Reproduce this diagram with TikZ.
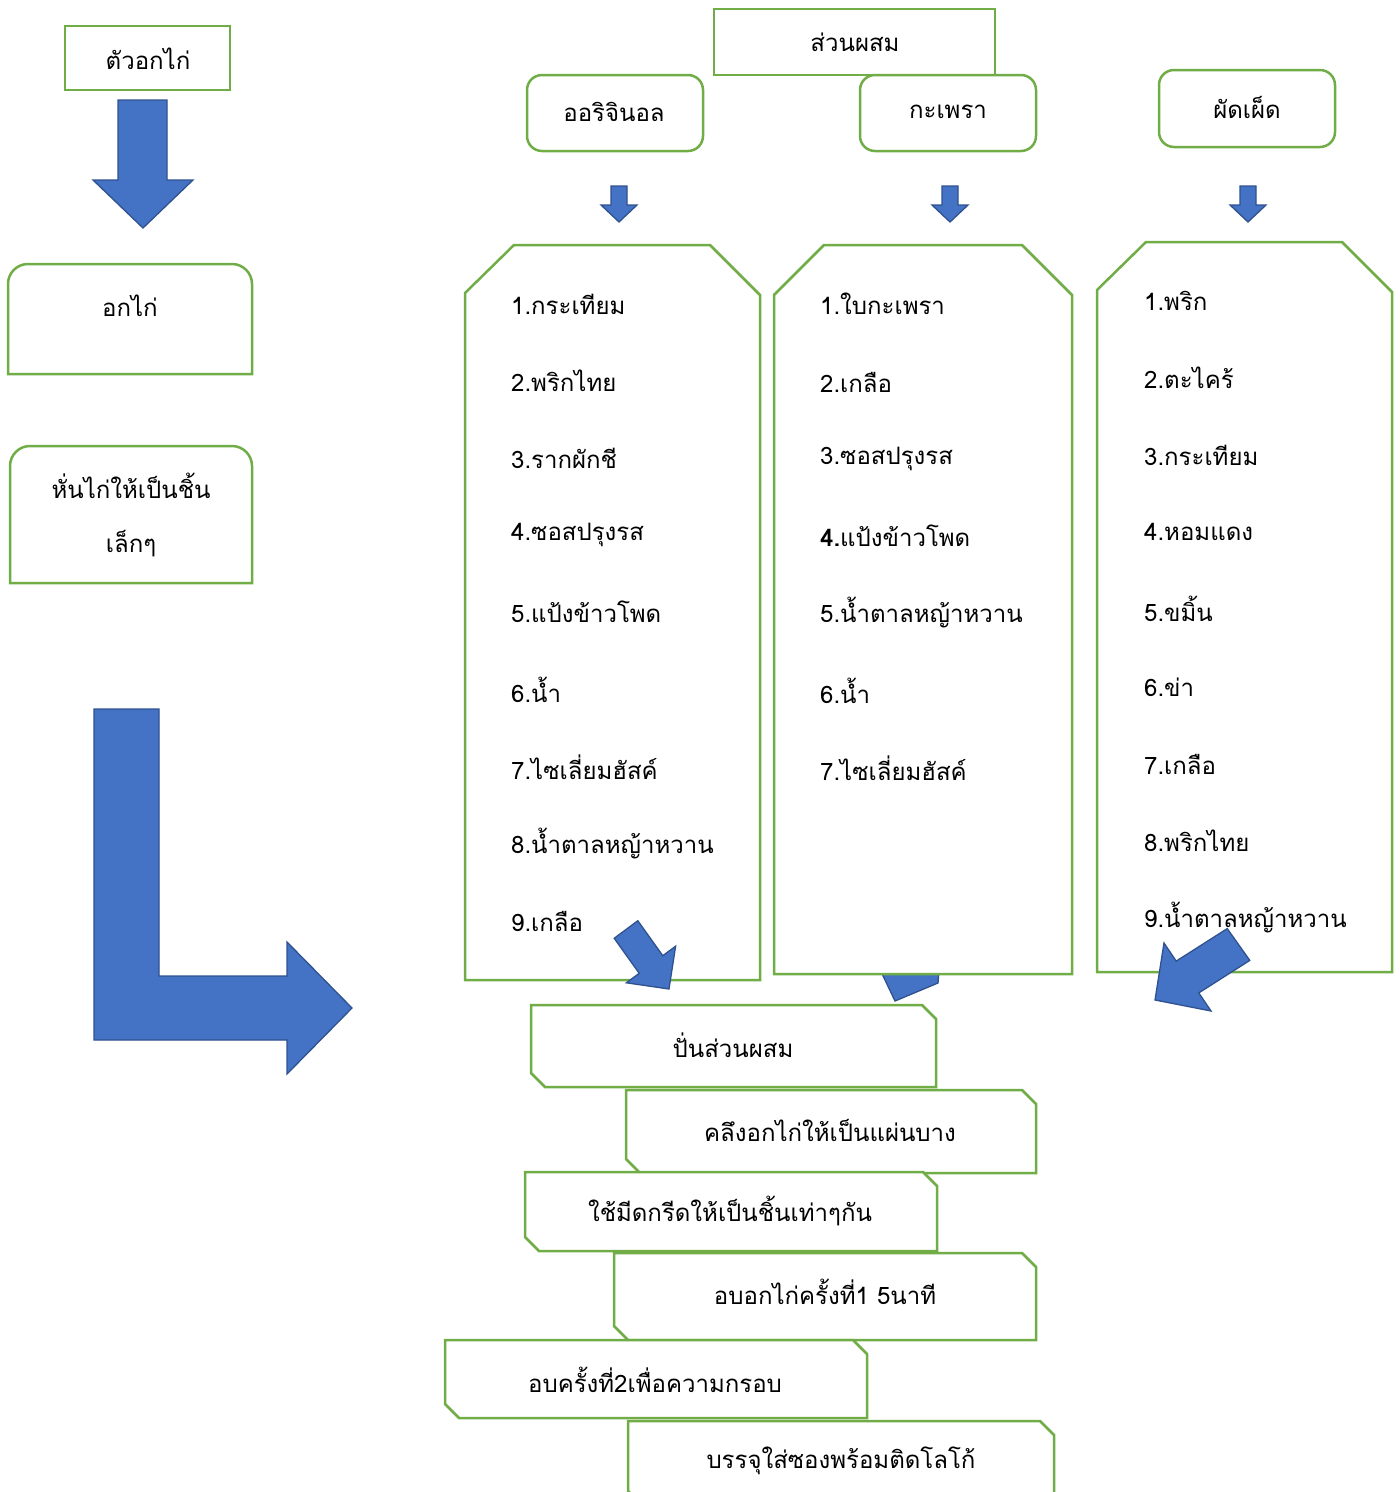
\documentclass[tikz,border=0pt]{standalone}
\usepackage{fontspec}
\setmainfont[Script=Thai]{Loma}
\definecolor{grn}{HTML}{70AD47}
\definecolor{blu}{HTML}{4472C4}
\definecolor{bluedk}{HTML}{2F528F}
\newcommand\snipbox[4]{\draw[gbox] (#1,#2) -- ({#3-14},#2) -- (#3,{#2+14}) -- (#3,#4) -- ({#1+14},#4) -- (#1,{#4-14}) -- cycle;}
\newcommand\smdown[1]{\begin{scope}[shift={(#1,0)}]\draw[barrow] (-8,186) -- (8,186) -- (8,205) -- (18,205) -- (0,222) -- (-18,205) -- (-8,205) -- cycle;\end{scope}}
\tikzset{
 gbox/.style={draw=grn, line width=2.5pt, fill=white, line join=miter},
 barrow/.style={fill=blu, draw=bluedk, line width=1.3pt, line join=miter},
 lbl/.style={font=\fontsize{24}{30}\selectfont, inner sep=0pt},
 item/.style={font=\fontsize{24}{30}\selectfont, anchor=west, inner sep=0pt},
}
\begin{document}
\begin{tikzpicture}[x=1pt,y=-1pt]
\useasboundingbox (0,0) rectangle (1400,1492);
% left column
\draw[gbox] (65,26) rectangle (230,90);
\node[lbl] (tua) at (148,59) {ตัวอกไก่};
\draw[barrow] (118,100) -- (167,100) -- (167,180) -- (193,180) -- (143,228) -- (93,180) -- (118,180) -- cycle;
\draw[gbox] (8,374) -- (8,284) arc[start angle=180,end angle=270,radius=20] -- (232,264) arc[start angle=270,end angle=360,radius=20] -- (252,374) -- cycle;
\node[lbl] (ok) at (130,306) {อกไก่};
\draw[gbox] (10,583) -- (10,466) arc[start angle=180,end angle=270,radius=20] -- (232,446) arc[start angle=270,end angle=360,radius=20] -- (252,583) -- cycle;
\node[lbl] (hun1) at (131,486) {หั่นไก่ให้เป็นชิ้น};
\node[lbl] (hun2) at (131,544) {เล็กๆ};
\draw[barrow] (94,709) -- (159,709) -- (159,976) -- (287,976) -- (287,942) -- (352,1008) -- (287,1074) -- (287,1040) -- (94,1040) -- cycle;
% top headers
\draw[gbox] (714,9) rectangle (995,75);
\node[lbl] (suan) at (855,42) {ส่วนผสม};
\draw[gbox, rounded corners=15pt] (527,75) rectangle (703,151);
\node[lbl] (orig) at (614,112) {ออริจินอล};
\draw[gbox, rounded corners=15pt] (860,75) rectangle (1036,151);
\node[lbl] (kap) at (948,112) {กะเพรา};
\draw[gbox, rounded corners=15pt] (1159,70) rectangle (1335,147);
\node[lbl] (phet) at (1247,107) {ผัดเผ็ด};
\smdown{619}
\smdown{950}
\smdown{1248}
% column A
\draw[gbox] (465,980) -- (465,293) -- (514,245) -- (710,245) -- (760,295) -- (760,980) -- cycle;
\node[item] (a1) at (511,304) {1.กระเทียม};
\node[item] (a2) at (511,381) {2.พริกไทย};
\node[item] (a3) at (511,458) {3.รากผักชี};
\node[item] (a4) at (511,535) {4.ซอสปรุงรส};
\node[item] (a5) at (511,612) {5.แป้งข้าวโพด};
\node[item] (a6) at (511,690) {6.น้ำ};
\node[item] (a7) at (511,767) {7.ไซเลี่ยมฮัสค์};
\node[item] (a8) at (511,844) {8.น้ำตาลหญ้าหวาน};
\node[item] (a9) at (511,921) {9.เกลือ};
\draw[barrow] (614.2,938.3) -- (637.8,920.7) -- (662.8,955.7) -- (675.6,946.2) -- (669,989) -- (626.4,982.8) -- (639.2,973.3) -- cycle;
% column B (arrow behind)
\draw[barrow] (911,920) -- (942,932) -- (938,983) -- (895,1001) -- (875,959) -- cycle;
\draw[gbox] (774,974) -- (774,295) -- (824,245) -- (1022,245) -- (1072,295) -- (1072,974) -- cycle;
\node[item] (b1) at (820,304) {1.ใบกะเพรา};
\node[item] (b2) at (820,382) {2.เกลือ};
\node[item] (b3) at (820,459) {3.ซอสปรุงรส};
\node[item] (b4) at (820,536) {\textbf{4.}แป้งข้าวโพด};
\node[item] (b5) at (820,613) {5.น้ำตาลหญ้าหวาน};
\node[item] (b6) at (820,691) {6.น้ำ};
\node[item] (b7) at (820,768) {7.ไซเลี่ยมฮัสค์};
% column C
\draw[gbox] (1097,972) -- (1097,290) -- (1146,242) -- (1342,242) -- (1392,292) -- (1392,972) -- cycle;
\node[item] (c1) at (1144,301) {1.พริก};
\node[item] (c2) at (1144,378) {2.ตะไคร้};
\node[item] (c3) at (1144,455) {3.กระเทียม};
\node[item] (c4) at (1144,532) {4.หอมแดง};
\node[item] (c5) at (1144,609) {5.ขมิ้น};
\node[item] (c6) at (1144,687) {6.ข่า};
\node[item] (c7) at (1144,764) {7.เกลือ};
\node[item] (c8) at (1144,841) {8.พริกไทย};
\node[item] (c9) at (1144,918) {9.น้ำตาลหญ้าหวาน};
\draw[barrow] (1227.2,928.6) -- (1249.8,960.4) -- (1198.8,992.9) -- (1211,1011) -- (1155,1000) -- (1164,943) -- (1176.2,961.1) -- cycle;
% process steps
\snipbox{531}{1005}{936}{1087}
\node[lbl] (s1) at (733,1045) {ปั่นส่วนผสม};
\snipbox{626}{1090}{1036}{1173}
\node[lbl] (s2) at (830,1130) {คลึงอกไก่ให้เป็นแผ่นบาง};
\snipbox{525}{1172}{937}{1251}
\node[lbl] (s3) at (730,1211) {ใช้มีดกรีดให้เป็นชิ้นเท่าๆกัน};
\snipbox{614}{1253}{1036}{1340}
\node[lbl] (s4) at (825,1292) {อบอกไก่ครั้งที่1 5นาที};
\snipbox{445}{1340}{867}{1418}
\node[lbl] (s5) at (655,1380) {อบครั้งที่2เพื่อความกรอบ};
\snipbox{628}{1421}{1054}{1505}
\node[lbl] (s6) at (841,1461) {บรรจุใส่ซองพร้อมติดโลโก้};
\end{tikzpicture}
\end{document}
